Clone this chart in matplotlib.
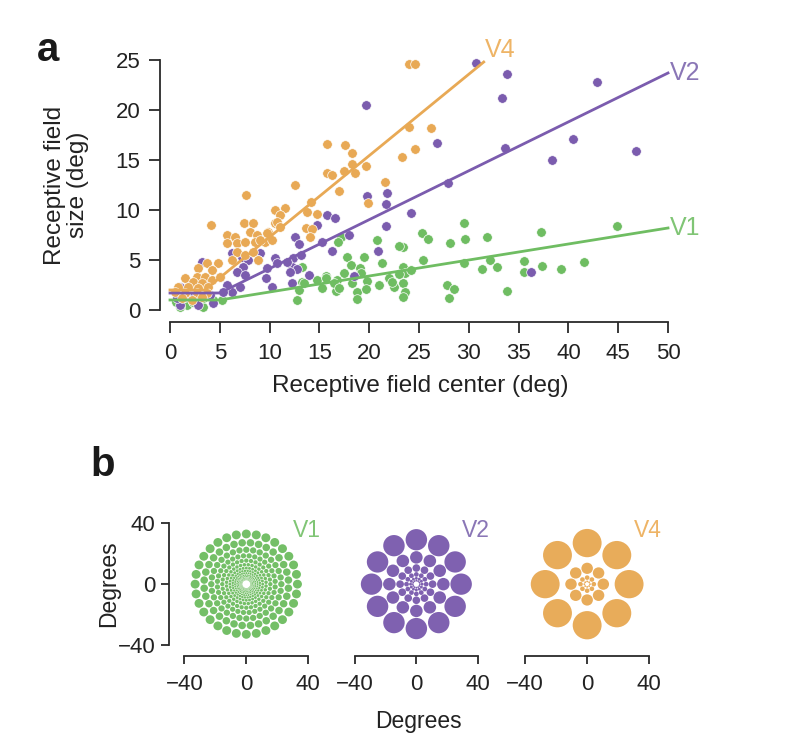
import numpy as np
import matplotlib
matplotlib.use("Agg")
import matplotlib.pyplot as plt
from matplotlib.patches import Circle
from matplotlib.collections import PatchCollection

plt.rcParams['font.family'] = ['Liberation Sans', 'DejaVu Sans']

# ---- panel a data ----
v4_x = [24.0, 24.6, 24.0, 26.2, 23.3, 24.6, 15.8, 17.6, 18.3, 18.3, 19.7, 17.5, 18.6, 15.8,
        16.3, 17.0, 12.5, 21.6, 19.9, 14.2, 13.8, 14.8, 13.7, 14.3, 14.1, 7.6, 4.1, 7.4, 8.3,
        8.0, 5.7, 6.5, 8.7, 5.7, 6.7, 7.5, 8.5, 9.5, 10.5, 11.5, 11.0, 10.5, 9.8, 6.7, 7.5,
        8.3, 8.8, 6.2, 4.8, 3.7, 2.8, 4.2, 2.7, 3.5, 1.5, 2.3, 3.2, 4.2, 5.0, 0.8, 1.8, 2.8,
        3.8, 0.5, 1.5, 2.7, 3.7, 10.7, 11.0, 9.7, 10.2, 9.0, 1.2, 2.2, 3.2]
v4_y = [24.6, 24.6, 18.3, 18.2, 15.3, 16.1, 16.6, 16.5, 15.7, 14.6, 14.4, 13.9, 13.7, 13.7,
        13.5, 11.9, 12.5, 12.8, 10.7, 10.8, 9.8, 9.6, 8.2, 8.1, 7.3, 11.5, 8.5, 8.7, 8.7,
        7.8, 7.5, 7.3, 7.5, 6.7, 6.7, 6.8, 6.8, 6.8, 10.0, 10.2, 9.5, 8.7, 7.8, 5.8, 5.5,
        5.8, 5.0, 5.0, 4.7, 4.7, 4.2, 4.0, 3.3, 3.3, 3.2, 2.8, 2.7, 3.0, 3.3, 2.3, 2.3, 2.2,
        2.3, 1.8, 1.7, 1.7, 1.7, 8.8, 8.3, 7.7, 7.0, 7.0, 1.2, 1.0, 1.3]

v2_x = [30.7, 33.8, 33.3, 26.8, 27.9, 24.2, 42.9, 40.5, 38.4, 46.8, 36.2, 33.6, 19.7, 19.8,
        21.8, 21.7, 21.7, 15.8, 16.6, 12.5, 13.0, 15.3, 18.0, 16.3, 20.9, 12.3, 13.2, 12.2,
        12.8, 14.0, 12.2, 18.5, 14.8, 10.5, 10.7, 11.7, 12.0, 9.7, 9.6, 10.2, 9.0, 8.8, 6.2,
        7.2, 7.8, 7.3, 6.7, 7.5, 6.2, 7.0, 3.2, 5.0, 5.7, 5.3, 1.0, 2.8, 4.3, 3.7, 1.0, 2.0,
        1.5, 2.5, 4.0, 0.7]
v2_y = [24.7, 23.6, 21.2, 16.7, 12.7, 9.7, 22.8, 17.1, 15.0, 15.9, 3.8, 16.2, 20.5, 11.4,
        11.7, 10.6, 8.4, 9.5, 9.2, 7.3, 6.6, 6.8, 7.5, 5.9, 5.9, 5.2, 5.5, 4.3,
        4.1, 3.5, 2.7, 3.4, 8.5, 5.2, 4.7, 4.8, 3.8, 4.2, 3.2, 2.3, 5.7, 5.0, 5.7,
        5.3, 5.0, 4.3, 3.8, 3.5, 1.8, 2.3, 4.8, 3.3, 2.5, 1.8, 0.5, 0.5, 0.7, 2.7, 2.3, 2.5,
        1.3, 1.5, 1.5, 1.2]

v1_x = [29.5, 25.3, 25.9, 28.1, 29.6, 31.8, 37.2, 44.9, 25.4, 29.5, 31.3, 32.1, 32.8, 35.5,
        35.5, 37.3, 39.3, 41.6, 27.8, 28.5, 28.0, 33.8, 23.4, 23.4, 23.6, 23.4, 23.6, 23.4,
        24.2, 17.2, 16.9, 20.8, 23.0, 17.8, 13.3, 18.2, 19.1, 21.3, 15.7, 17.5, 19.2, 13.3,
        14.8, 16.8, 19.8, 22.0, 23.0, 13.0, 15.3, 16.7, 18.8, 19.7, 21.0, 22.5, 12.8, 18.8,
        13.5, 16.5, 15.7, 17.0, 18.3, 19.5, 22.3, 1.0, 1.7, 2.3, 3.3, 1.0, 5.2, 4.3, 3.3,
        0.6, 2.0]
v1_y = [8.7, 7.7, 7.1, 6.7, 7.1, 7.3, 7.8, 8.4, 5.0, 4.7, 4.1, 5.0, 4.3, 4.9,
        3.8, 4.4, 4.1, 4.8, 2.5, 2.1, 1.2, 1.9, 6.3, 4.3, 3.7, 2.7, 1.8, 1.3,
        4.0, 7.3, 6.8, 7.0, 6.4, 5.3, 4.3, 4.5, 4.2, 4.7, 3.4, 3.7, 3.7, 2.8,
        3.0, 3.0, 2.9, 3.2, 3.6, 2.0, 2.2, 1.9, 1.8, 2.1, 2.5, 2.3, 1.0, 1.1,
        2.7, 2.7, 3.2, 2.2, 2.7, 5.3, 2.8, 1.3, 0.5, 0.8, 0.3, 0.3, 1.0, 1.0, 1.2,
        0.8, 1.4]

# fitted lines (break points)
v1_fit_x = [0, 5, 50]
v1_fit_y = [1.0, 1.0, 8.2]
v2_fit_x = [0, 5, 50]
v2_fit_y = [1.7, 1.7, 23.7]
v4_fit_x = [0, 3.5, 31.5]
v4_fit_y = [2.0, 2.0, 24.8]

# ---- panel b: ring eccentricities and receptive field radii (deg) ----
v1_ring_ecc = [33.0, 27.3, 22.6, 18.7, 15.5, 12.8, 10.6, 8.8, 7.3, 6.0, 5.0, 4.1, 3.4, 2.8]
v1_ring_rad = [2.9, 2.45, 2.05, 1.7, 1.4, 1.15, 0.95, 0.8, 0.65, 0.54, 0.44, 0.36, 0.3, 0.25]
v1_n = 32
v2_ring_ecc = [29.2, 17.6, 10.6, 6.4, 3.8, 2.3]
v2_ring_rad = [7.0, 4.1, 2.5, 1.55, 0.95, 0.6]
v2_n = 12
v4_ring_ecc = [27.0, 10.4, 4.3, 1.8]
v4_ring_rad = [9.3, 3.7, 1.5, 0.6]
v4_n = 8

c_v1 = '#6fbd62'
c_v2 = '#7b5cae'
c_v4 = '#e8a955'
c_v1_txt = '#80c575'
c_v2_txt = '#8a76b6'
c_v4_txt = '#eeb466'
dark = '#2a2a2a'
txt = '#222222'

W, H = 794, 754
fig = plt.figure(figsize=(W / 100, H / 100), dpi=100)


def px_axes(l, r, b, t):
    return fig.add_axes([l / W, 1 - b / H, (r - l) / W, (b - t) / H])


def style(ax, offl, offb, ticklen, padx, pady):
    for s in ['top', 'right']:
        ax.spines[s].set_visible(False)
    for s in ['left', 'bottom']:
        ax.spines[s].set_color(dark)
        ax.spines[s].set_linewidth(1.3)
    ax.spines['left'].set_position(('outward', offl * 0.72))
    ax.spines['bottom'].set_position(('outward', offb * 0.72))
    ax.tick_params(colors=dark, labelcolor=txt, width=1.3, length=ticklen,
                   labelsize=16)
    ax.tick_params(axis='x', pad=padx)
    ax.tick_params(axis='y', pad=pady)


# ---- panel a ----
ax = px_axes(170, 668, 310, 60)
ax.set_xlim(0, 50)
ax.set_ylim(0, 25)
style(ax, 10, 12, 8, 7, 6)
ax.set_xticks(range(0, 51, 5))
ax.set_yticks(range(0, 26, 5))
ax.spines['bottom'].set_bounds(0, 50)
ax.spines['left'].set_bounds(0, 25)

kw = dict(s=48, edgecolors='white', linewidths=0.5, clip_on=False, zorder=3)
ax.scatter(v1_x, v1_y, color=c_v1, **kw)
ax.scatter(v2_x, v2_y, color=c_v2, **kw)
ax.scatter(v4_x, v4_y, color=c_v4, **kw)
ax.plot(v1_fit_x, v1_fit_y, color=c_v1, lw=2, zorder=4, clip_on=False)
ax.plot(v2_fit_x, v2_fit_y, color=c_v2, lw=2, zorder=4, clip_on=False)
ax.plot(v4_fit_x, v4_fit_y, color=c_v4, lw=2, zorder=4, clip_on=False)
ax.text(31.6, 26.0, 'V4', color=c_v4_txt, fontsize=18, va='center', ha='left')
ax.text(50.2, 23.7, 'V2', color=c_v2_txt, fontsize=18, va='center', ha='left')
ax.text(50.2, 8.2, 'V1', color=c_v1_txt, fontsize=18, va='center', ha='left')

ax.set_xlabel('Receptive field center (deg)', fontsize=17.5, color=txt)
ax.xaxis.set_label_coords(0.502, -0.26)
ax.set_ylabel('Receptive field\nsize (deg)', fontsize=17.5, color=txt, linespacing=1.05)
ax.yaxis.set_label_coords(-0.163, 0.5)
fig.text(48 / W, 1 - 50 / H, 'a', fontsize=29, fontweight='bold', ha='center',
         va='center', color='#1a1a1a')

# ---- panel b ----
def rings(ax, ecc, rad, n, color, spiral):
    patches = []
    step = 2 * np.pi / n
    for i, (e, r) in enumerate(zip(ecc, rad)):
        off = np.pi / 2 + (i * step / 2 if spiral else 0)
        for k in range(n):
            a = off + k * step
            patches.append(Circle((e * np.cos(a), e * np.sin(a)), r))
    pc = PatchCollection(patches, facecolor=color, edgecolor='none', alpha=0.97)
    ax.add_collection(pc)


boxes = [(184.3, 308.3), (355, 477.7), (525, 649.3)]
specs = [(v1_ring_ecc, v1_ring_rad, v1_n, c_v1, True, 'V1', c_v1_txt),
         (v2_ring_ecc, v2_ring_rad, v2_n, c_v2, False, 'V2', c_v2_txt),
         (v4_ring_ecc, v4_ring_rad, v4_n, c_v4, False, 'V4', c_v4_txt)]
for i, ((l, r), sp) in enumerate(zip(boxes, specs)):
    bx = px_axes(l, r, 645, 523.3)
    bx.set_xlim(-40, 40)
    bx.set_ylim(-40, 40)
    style(bx, 15, 11, 6, 7, 4)
    bx.set_xticks([-40, 0, 40])
    bx.set_yticks([-40, 0, 40])
    bx.spines['bottom'].set_bounds(-40, 40)
    bx.spines['left'].set_bounds(-40, 40)
    rings(bx, sp[0], sp[1], sp[2], sp[3], sp[4])
    bx.text(48, 35.5, sp[5], color=sp[6], fontsize=16.5, ha='right', va='center')
    if i == 0:
        bx.set_ylabel('Degrees', fontsize=16.5, color=txt)
        bx.yaxis.set_label_coords(-0.52, 0.5)
    else:
        bx.spines['left'].set_visible(False)
        bx.tick_params(left=False, labelleft=False)
    if i == 1:
        bx.set_xlabel('Degrees', fontsize=16.5, color=txt)
        bx.xaxis.set_label_coords(0.513, -0.53)

fig.text(103 / W, 1 - 465 / H, 'b', fontsize=29, fontweight='bold', ha='center',
         va='center', color='#1a1a1a')

fig.savefig('out.png', dpi=100)
